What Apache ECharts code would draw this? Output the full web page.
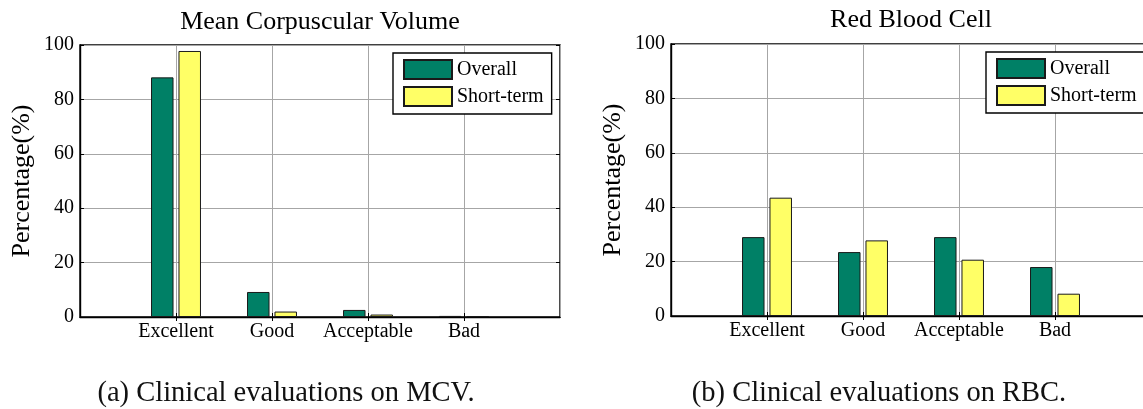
<!DOCTYPE html>
<html>
<head>
<meta charset="utf-8">
<script src="https://cdn.jsdelivr.net/npm/echarts@6/dist/echarts.min.js"></script>
<style>
  html, body { margin: 0; padding: 0; background: #ffffff; }
  #chart { width: 1143px; height: 409px; }
</style>
</head>
<body>
<div id="chart"></div>
<script>
// Clinical evaluation shares (%) per rating category
const categories = ['Excellent', 'Good', 'Acceptable', 'Bad'];
const seriesNames = ['Overall', 'Short-term'];
const mcvOverall = [88.1, 9.2, 2.6, 0.4];
const mcvShortTerm = [97.8, 2.0, 0.9, 0.3];
const rbcOverall = [29.0, 23.5, 29.0, 18.0];
const rbcShortTerm = [43.5, 27.8, 20.7, 8.2];
const yMin = 0, yMax = 100, yStep = 20;
const panelTitles = ['Mean Corpuscular Volume', 'Red Blood Cell'];
const captions = ['(a) Clinical evaluations on MCV.', '(b) Clinical evaluations on RBC.'];
const yAxisName = 'Percentage(%)';

const FONT = "'Liberation Serif', 'Times New Roman', serif";
const COLORS = ['#008066', '#ffff66'];
const GRID_LINE = '#a6a6a6';

// categories sit at 1..4 on a 0..5 span: blank slots at both ends
const axisData = [''].concat(categories, [' ']);
const padded = vals => ['-'].concat(vals, ['-']);
const innerTick = idx => idx > 0 && idx < axisData.length - 1;

const panels = [
  { grid: { left: 80, top: 45, width: 480, height: 272 },
    values: [mcvOverall, mcvShortTerm], legend: { left: 393, top: 53 },
    title: { left: 320, top: 9 }, caption: { left: 286, top: 379 } },
  { grid: { left: 671, top: 44, width: 480, height: 272 },
    values: [rbcOverall, rbcShortTerm], legend: { left: 986, top: 52 },
    title: { left: 911, top: 7.5 }, caption: { left: 879, top: 379 } }
];

const option = {
  animation: false,
  backgroundColor: '#ffffff',
  title: [], legend: [], grid: [], xAxis: [], yAxis: [], series: []
};

panels.forEach((p, i) => {
  option.grid.push(Object.assign({ show: true, borderColor: '#000', borderWidth: 1.4,
    backgroundColor: '#fff', containLabel: false, outerBoundsMode: 'none' }, p.grid));

  option.title.push({
    text: panelTitles[i], left: p.title.left, top: p.title.top, textAlign: 'center', padding: 0,
    textStyle: { fontFamily: FONT, fontSize: 26, fontWeight: 'normal', color: '#000' }
  });
  option.title.push({
    text: captions[i], left: p.caption.left, top: p.caption.top, textAlign: 'center', padding: 0,
    textStyle: { fontFamily: FONT, fontSize: 28.5, fontWeight: 'normal', color: '#111' }
  });

  option.legend.push({
    data: seriesNames, orient: 'vertical', left: p.legend.left, top: p.legend.top,
    padding: [6, 8, 7, 10], itemGap: 6, itemWidth: 48, itemHeight: 19, icon: 'rect',
    backgroundColor: '#fff', borderColor: '#000', borderWidth: 1.4, borderRadius: 0,
    selectedMode: false,
    textStyle: { fontFamily: FONT, fontSize: 20, color: '#000' }
  });

  // bottom category axis
  option.xAxis.push({
    type: 'category', gridIndex: i, data: axisData, boundaryGap: false,
    axisLine: { show: true, lineStyle: { color: '#000', width: 1.4 } },
    axisTick: { show: true, inside: true, length: 4, interval: innerTick, lineStyle: { color: '#000' } },
    axisLabel: { interval: 0, margin: 5, fontFamily: FONT, fontSize: 20, color: '#000' },
    splitLine: { show: true, interval: 0, lineStyle: { color: GRID_LINE, width: 1 } }
  });
  // top mirror axis for ticks only
  option.xAxis.push({
    type: 'category', gridIndex: i, position: 'top', data: axisData, boundaryGap: false,
    axisLine: { show: false },
    axisTick: { show: true, inside: true, length: 4, interval: innerTick, lineStyle: { color: '#000' } },
    axisLabel: { show: false }, splitLine: { show: false }
  });

  option.yAxis.push({
    type: 'value', gridIndex: i, min: yMin, max: yMax, interval: yStep,
    name: yAxisName, nameLocation: 'middle', nameGap: 45,
    nameTextStyle: { fontFamily: FONT, fontSize: 26, color: '#000' },
    axisLine: { show: true, lineStyle: { color: '#000', width: 1.4 } },
    axisTick: { show: true, inside: true, length: 4, lineStyle: { color: '#000' } },
    axisLabel: { margin: 6, fontFamily: FONT, fontSize: 20, color: '#000' },
    splitLine: { show: true, lineStyle: { color: GRID_LINE, width: 1 } }
  });
  option.yAxis.push({
    type: 'value', gridIndex: i, position: 'right', min: yMin, max: yMax, interval: yStep,
    axisLine: { show: false },
    axisTick: { show: true, inside: true, length: 4, lineStyle: { color: '#000' } },
    axisLabel: { show: false }, splitLine: { show: false }
  });

  p.values.forEach((vals, k) => {
    option.series.push({
      type: 'bar', name: seriesNames[k], xAxisIndex: 2 * i, yAxisIndex: 2 * i,
      data: padded(vals), barWidth: 22.5, barGap: '22%',
      itemStyle: { color: COLORS[k], borderColor: '#1a1a1a', borderWidth: 1 },
      emphasis: { disabled: true }
    });
  });
});

const chart = echarts.init(document.getElementById('chart'), null, { renderer: 'canvas' });
chart.setOption(option);
</script>
</body>
</html>
